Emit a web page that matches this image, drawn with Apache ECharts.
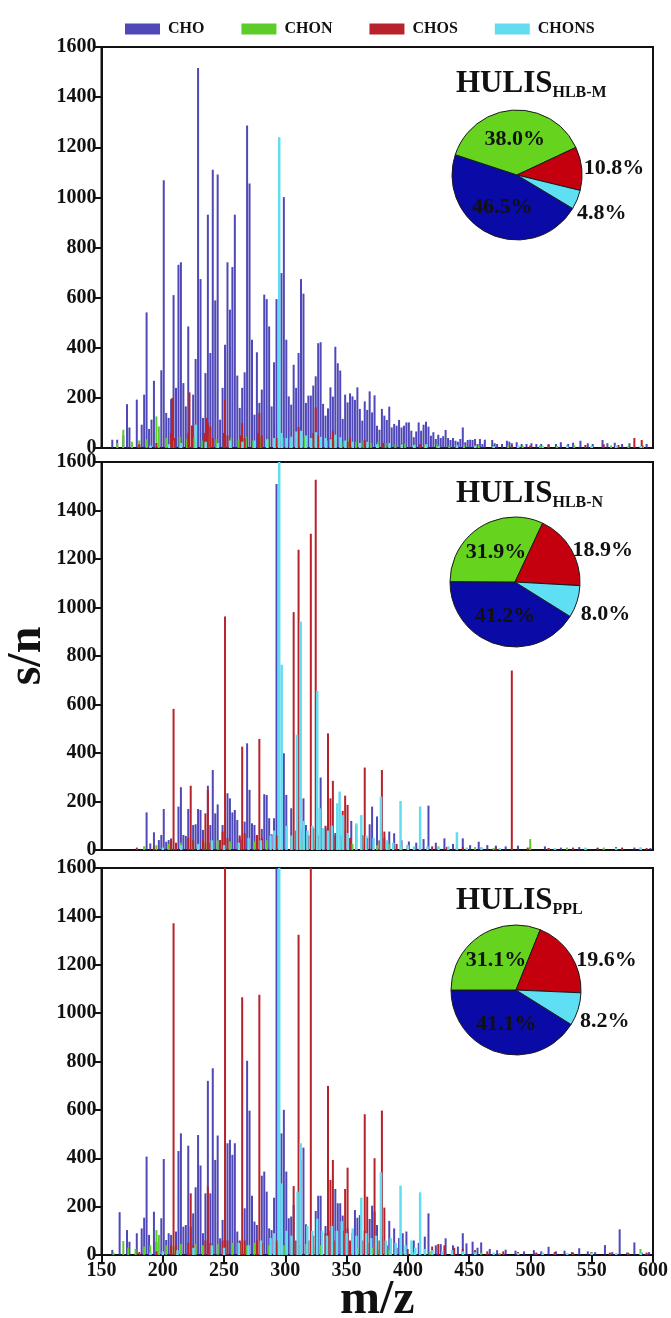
<!DOCTYPE html>
<html>
<head>
<meta charset="utf-8">
<script src="https://cdn.jsdelivr.net/npm/echarts@6/dist/echarts.min.js"></script>
<style>
  html, body { margin: 0; padding: 0; background: #fff; }
  #main { width: 671px; height: 1318px; }
</style>
</head>
<body>
<div id="main"></div>
<script>
  // peak lists [m/z, s/n] (top: HLB-M, middle: HLB-N, bottom: PPL)
  const choM = [[159,33],[163,33],[168,50],[171,175],[173,82],[179,193],[183,93],[185,213],[187,541],[189,76],[191,113],[193,268],[199,310],[201,1068],[203,140],[205,120],[207,195],[209,610],[211,240],[213,731],[215,741],[217,259],[219,166],[221,485],[225,213],[227,355],[229,1516],[231,674],[233,120],[235,299],[237,931],[239,379],[241,1110],[243,589],[245,1091],[247,113],[249,240],[251,412],[253,741],[255,552],[257,722],[259,931],[261,289],[263,160],[265,240],[267,302],[269,1287],[271,1055],[273,432],[275,133],[277,382],[279,180],[281,233],[283,612],[285,594],[287,485],[289,166],[291,342],[293,594],[297,698],[299,1001],[301,432],[303,206],[305,173],[307,332],[309,240],[311,379],[313,674],[315,616],[317,180],[319,209],[321,209],[323,249],[325,286],[327,418],[329,422],[331,176],[333,129],[335,158],[337,242],[339,205],[341,404],[343,338],[345,309],[347,116],[349,213],[351,182],[353,218],[355,206],[357,192],[359,242],[361,156],[363,109],[365,186],[367,152],[369,226],[371,142],[373,210],[375,89],[377,73],[379,156],[381,129],[383,112],[385,165],[387,82],[389,96],[391,89],[393,112],[395,82],[397,89],[399,102],[401,102],[403,69],[405,43],[407,66],[409,102],[411,69],[413,93],[415,105],[417,85],[419,49],[421,63],[423,36],[425,53],[427,40],[429,47],[431,72],[433,40],[435,32],[437,40],[439,29],[441,25],[443,36],[445,82],[447,23],[449,32],[451,33],[453,32],[455,36],[457,16],[459,36],[461,16],[463,33],[469,32],[471,19],[473,16],[477,16],[481,29],[483,25],[485,19],[489,23],[493,16],[497,16],[501,19],[505,16],[509,16],[515,16],[521,16],[525,23],[531,16],[535,21],[541,29],[547,19],[551,16],[559,32],[563,19],[569,21],[575,16],[581,19],[595,16]]
  const chonM = [[163,20],[168,73],[175,25],[181,30],[187,35],[195,126],[197,86],[203,40],[209,30],[214,45],[220,35],[226,40],[232,30],[238,45],[244,35],[250,30],[256,40],[262,35],[268,45],[274,30],[280,40],[286,35],[292,30],[298,40],[304,35],[310,30],[316,45],[322,30],[328,35],[334,30],[340,40],[346,25],[352,30],[358,25],[364,30],[370,20],[376,25],[382,20],[390,15],[398,18],[406,15],[414,12],[424,15],[434,10],[446,12],[458,10],[470,8],[482,10],[494,8],[508,10],[522,8],[536,10],[550,8],[566,10],[580,8],[592,10]]
  const chosM = [[181,15],[195,20],[207,60],[208,200],[210,40],[221,60],[222,222],[224,90],[234,60],[236,120],[237,100],[239,86],[241,40],[250,60],[251,193],[253,50],[264,50],[265,100],[267,40],[278,60],[279,140],[281,50],[293,40],[295,80],[297,30],[309,40],[311,84],[313,30],[323,60],[325,162],[327,50],[337,40],[339,69],[341,30],[351,25],[353,40],[365,32],[367,25],[380,20],[395,18],[410,15],[425,12],[440,12],[455,15],[470,10],[485,12],[500,10],[515,12],[530,10],[545,12],[560,15],[572,12],[585,40],[591,32]]
  const chonsM = [[190,10],[205,15],[215,20],[227,93],[235,25],[245,20],[255,30],[265,25],[275,30],[285,35],[291,40],[295,1240],[297,60],[301,40],[305,45],[309,66],[313,69],[317,50],[321,40],[325,63],[329,45],[333,40],[337,35],[341,53],[345,43],[349,30],[355,25],[361,20],[367,25],[375,15],[385,20],[395,15],[405,12],[415,15],[425,10],[440,12],[455,10],[470,8],[490,10],[510,8],[530,10],[550,8],[570,10],[590,8]]

  const choN = [[187,155],[190,27],[193,73],[197,41],[199,62],[201,169],[203,34],[205,41],[207,48],[213,179],[215,259],[217,62],[219,58],[221,169],[225,103],[227,106],[229,169],[231,165],[233,83],[237,265],[239,103],[241,330],[243,151],[245,188],[247,41],[249,103],[253,234],[255,213],[257,155],[259,165],[261,124],[263,48],[267,117],[269,440],[271,248],[273,110],[275,103],[277,62],[281,87],[283,230],[285,227],[287,131],[289,65],[291,131],[293,1509],[299,399],[301,227],[305,172],[315,213],[317,103],[329,299],[333,90],[337,80],[341,70],[345,60],[349,80],[354,120],[358,103],[363,60],[369,106],[371,179],[375,138],[381,50],[385,76],[389,69],[395,40],[401,35],[407,30],[413,45],[417,183],[423,30],[430,48],[437,25],[445,48],[451,20],[458,34],[465,20],[472,18],[480,15],[490,18],[500,12],[512,15],[525,10],[540,12],[555,10],[570,12],[585,10],[598,8]]
  const chonN = [[185,15],[195,20],[205,25],[215,30],[225,35],[235,30],[245,40],[255,35],[265,40],[275,35],[285,40],[295,35],[305,40],[315,35],[325,40],[335,30],[345,35],[355,25],[365,30],[375,20],[385,25],[395,15],[410,12],[425,15],[440,10],[455,12],[470,8],[485,10],[500,45],[515,8],[530,10],[545,8],[560,10],[575,8],[590,10]]
  const chosN = [[179,10],[193,15],[207,40],[209,582],[211,30],[221,50],[223,265],[225,40],[233,40],[235,151],[237,248],[239,30],[247,40],[249,76],[251,963],[253,50],[263,60],[265,426],[267,69],[277,60],[279,458],[281,50],[291,40],[293,60],[305,60],[307,981],[309,80],[311,1238],[313,80],[319,60],[321,1304],[323,90],[325,1527],[327,60],[333,100],[335,481],[337,213],[339,285],[341,60],[347,161],[349,224],[351,186],[353,50],[363,60],[365,340],[367,50],[377,40],[379,330],[381,76],[391,25],[400,20],[410,15],[420,15],[432,12],[445,12],[460,10],[472,12],[485,740],[498,10],[515,8],[535,10],[555,8],[575,10],[595,8]]
  const chonsN = [[200,10],[215,20],[229,25],[240,40],[250,20],[262,30],[270,50],[280,40],[288,60],[291,80],[295,1700],[297,764],[301,100],[305,60],[309.5,475],[312.5,942],[315,120],[318,80],[322,100],[326,656],[328,172],[331,90],[335,80],[338,100],[342.4,193],[344.3,241],[347,144],[351,70],[358,110],[362,144],[366,60],[372,50],[378,220],[383,40],[388,30],[394,202],[400,20],[405,15],[410,179],[416,15],[425,12],[433,15],[440,73],[448,10],[460,12],[475,8],[520,8],[545,10],[570,8],[590,10]]

  const choP = [[159,21],[165,177],[171,103],[173,55],[179,90],[183,110],[185,154],[187,407],[189,83],[193,179],[195,55],[199,152],[201,397],[203,62],[205,90],[207,83],[211,97],[213,430],[215,503],[217,117],[219,124],[221,452],[223,117],[225,172],[227,280],[229,496],[231,370],[233,90],[235,255],[237,720],[239,255],[241,772],[243,393],[245,494],[247,69],[249,145],[253,462],[255,476],[257,414],[259,462],[261,97],[263,55],[267,193],[269,803],[271,597],[273,245],[275,138],[277,124],[281,328],[283,345],[285,262],[287,110],[289,103],[291,237],[293,1650],[297,503],[299,600],[301,345],[303,152],[305,159],[307,207],[313,393],[315,444],[317,127],[325,182],[327,245],[329,245],[333,120],[337,100],[341,273],[343,214],[345,214],[347,163],[351,110],[355,90],[357,186],[359,154],[361,165],[365,100],[369,149],[371,204],[373,179],[375,124],[379,80],[385,141],[389,110],[393,70],[396,90],[399,97],[405,60],[409,50],[414,76],[417,172],[423,40],[427,45],[431,69],[437,40],[441,35],[445,90],[448,48],[453,55],[457,30],[460,52],[467,25],[473,20],[480,22],[488,18],[495,15],[503,20],[509,15],[515,34],[521,15],[528,18],[534,12],[540,28],[547,15],[553,12],[561,41],[567,12],[573,106],[579,10],[585,52],[591,10],[597,12]]
  const chonP = [[160,10],[168,58],[172,30],[178,25],[185,35],[190,40],[195,103],[197,83],[203,40],[209,35],[215,45],[221,40],[227,45],[233,40],[239,50],[245,45],[251,40],[257,50],[263,45],[269,40],[275,50],[281,45],[287,40],[293,45],[299,40],[305,45],[311,40],[317,45],[323,35],[329,40],[335,35],[341,40],[347,30],[353,35],[359,30],[365,25],[371,30],[377,20],[385,20],[395,15],[405,12],[418,15],[430,10],[445,12],[460,10],[475,8],[490,10],[505,8],[520,10],[535,8],[550,10],[565,8],[580,10],[590,25],[595,8]]
  const chosP = [[181,12],[195,15],[207,40],[209,1372],[211,40],[221,50],[223,255],[225,40],[235,60],[237,283],[239,50],[249,60],[251,1700],[253,60],[263,60],[265,1066],[267,60],[277,60],[279,1076],[281,50],[291,50],[293,60],[305,50],[307,285],[309,60],[311,1324],[313,60],[319,60],[321,1700],[323,80],[333,90],[335,699],[337,310],[339,393],[341,60],[347,100],[349,273],[351,361],[353,60],[363,60],[365,582],[367,241],[369,50],[373,400],[377,60],[379,597],[381,196],[383,40],[391,30],[400,25],[410,20],[420,35],[425,45],[430,40],[438,30],[445,25],[455,20],[465,15],[478,15],[490,12],[505,10],[520,12],[535,10],[550,12],[565,10],[580,8],[595,10]]
  const chonsP = [[190,10],[200,15],[212,20],[225,30],[240,40],[250,30],[262,50],[270,40],[280,60],[288,70],[291,90],[295,1700],[297,296],[301,100],[305,80],[310,262],[312.5,462],[318,120],[322,100],[326,150],[330,100],[334,80],[338,120],[342,100],[346,140],[350,90],[355,110],[358,80],[362,237],[366,90],[370,70],[374,80],[378,342],[382,60],[386,70],[390,50],[394,287],[398,40],[403,60],[406,30],[410,259],[414,25],[420,20],[428,15],[436,20],[445,15],[455,12],[470,10],[490,8],[510,10],[530,8],[550,10],[570,8],[590,10]]

  const classes = ['CHO', 'CHON', 'CHOS', 'CHONS']
  const pieM = [46.5, 38.0, 10.8, 4.8]
  const pieN = [41.2, 31.9, 18.9, 8.0]
  const pieP = [41.1, 31.1, 19.6, 8.2]
  const sampleNames = ['HLB-M', 'HLB-N', 'PPL']

  const colors = ['#0a0aa6', '#66d41e', '#c4000e', '#5fdff4']
  const barColors = ['rgba(48,40,172,0.85)', '#5ccc28', '#b8222a', '#62dcf0']
  const font = '"Liberation Serif", "Times New Roman", serif'

  const panels = [
    { top: 47, height: 401, data: [choM, chonM, chosM, chonsM], pie: pieM, center: [517, 175], start: 329 },
    { top: 462, height: 388, data: [choN, chonN, chosN, chonsN], pie: pieN, center: [515, 582], start: 328 },
    { top: 868, height: 387, data: [choP, chonP, chosP, chonsP], pie: pieP, center: [516, 990], start: 328 }
  ]
  // small nudges so the outside labels sit like in the figure
  const labelNudge = [
    { 2: { dx: -6 }, 3: { dx: -8, dy: 12 } },
    { 2: { dx: -6, dy: 3 }, 3: { dx: -4, dy: 12 } },
    { 2: { dx: -2, dy: 7 }, 3: { dx: -6, dy: 11 } }
  ]

  const chart = echarts.init(document.getElementById('main'))

  const grid = []
  const xAxis = []
  const yAxis = []
  const series = []
  const title = []

  panels.forEach((p, i) => {
    const last = i === panels.length - 1
    grid.push({
      left: 101.5, right: 18, top: p.top, height: p.height,
      show: true, borderColor: '#111', borderWidth: 2,
      outerBoundsMode: 'none'
    })
    xAxis.push({
      type: 'value', gridIndex: i, min: 150, max: 600, interval: 50,
      axisLine: { show: true, onZero: false, lineStyle: { color: '#111', width: 2 } },
      axisTick: { show: last, inside: false, length: 7, lineStyle: { color: '#111', width: 2 } },
      axisLabel: { show: last, color: '#111', fontFamily: font, fontWeight: 'bold', fontSize: 20, margin: 6, formatter: (v) => String(v) },
      splitLine: { show: false },
      name: last ? 'm/z' : '',
      nameLocation: 'middle',
      nameGap: 22,
      nameMoveOverlap: false,
      nameTextStyle: { color: '#111', fontFamily: font, fontWeight: 'bold', fontSize: 48 }
    })
    yAxis.push({
      type: 'value', gridIndex: i, min: 0, max: 1600, interval: 200,
      axisLine: { show: true, lineStyle: { color: '#111', width: 2 } },
      axisTick: { show: true, inside: false, length: 8, lineStyle: { color: '#111', width: 2 } },
      axisLabel: { color: '#111', fontFamily: font, fontWeight: 'bold', fontSize: 20, margin: 5, formatter: (v) => String(v) },
      splitLine: { show: false },
      name: i === 1 ? 's/n' : '',
      nameLocation: 'middle',
      nameGap: 50,
      nameMoveOverlap: false,
      nameTextStyle: { color: '#111', fontFamily: font, fontWeight: 'bold', fontSize: 48 }
    })

    p.data.forEach((d, k) => {
      series.push({
        type: 'bar',
        name: classes[k],
        xAxisIndex: i,
        yAxisIndex: i,
        data: d,
        barWidth: k === 3 ? 2.5 : 2,
        barGap: '-100%',
        itemStyle: { color: barColors[k] },
        emphasis: { disabled: true },
        animation: false
      })
    })

    const nudge = labelNudge[i]
    series.push({
      type: 'pie',
      center: p.center,
      radius: 65,
      startAngle: p.start,
      clockwise: true,
      animation: false,
      data: classes.map((c, k) => ({
        name: c,
        value: p.pie[k],
        itemStyle: { color: colors[k] },
        label: { position: k < 2 ? 'inside' : 'outside' }
      })),
      itemStyle: { borderColor: '#1a1a1a', borderWidth: 1 },
      label: {
        formatter: (q) => q.value.toFixed(1) + '%',
        color: '#111',
        fontFamily: font,
        fontWeight: 'bold',
        fontSize: 22
      },
      labelLine: { show: false, length: 3, length2: 0 },
      labelLayout: (q) => nudge[q.dataIndex] || {},
      emphasis: { disabled: true }
    })

    title.push({
      text: '{a|HULIS}{b|' + sampleNames[i] + '}',
      left: 456,
      top: p.top + [20, 15, 16][i],
      padding: 0,
      textStyle: {
        rich: {
          a: { fontFamily: font, fontWeight: 'bold', fontSize: 31, lineHeight: 34, color: '#111' },
          b: { fontFamily: font, fontWeight: 'bold', fontSize: 16, lineHeight: 10, verticalAlign: 'bottom', color: '#111' }
        }
      }
    })
  })

  chart.setOption({
    backgroundColor: '#fff',
    animation: false,
    color: colors,
    title: title,
    legend: {
      data: classes,
      left: 120,
      top: 16,
      icon: 'rect',
      itemWidth: 35,
      itemHeight: 11,
      itemGap: 37,
      textStyle: { color: '#111', fontFamily: font, fontWeight: 'bold', fontSize: 16, padding: [0, 0, 0, 3] },
      selectedMode: false
    },
    grid: grid,
    xAxis: xAxis,
    yAxis: yAxis,
    series: series
  })
</script>
</body>
</html>
